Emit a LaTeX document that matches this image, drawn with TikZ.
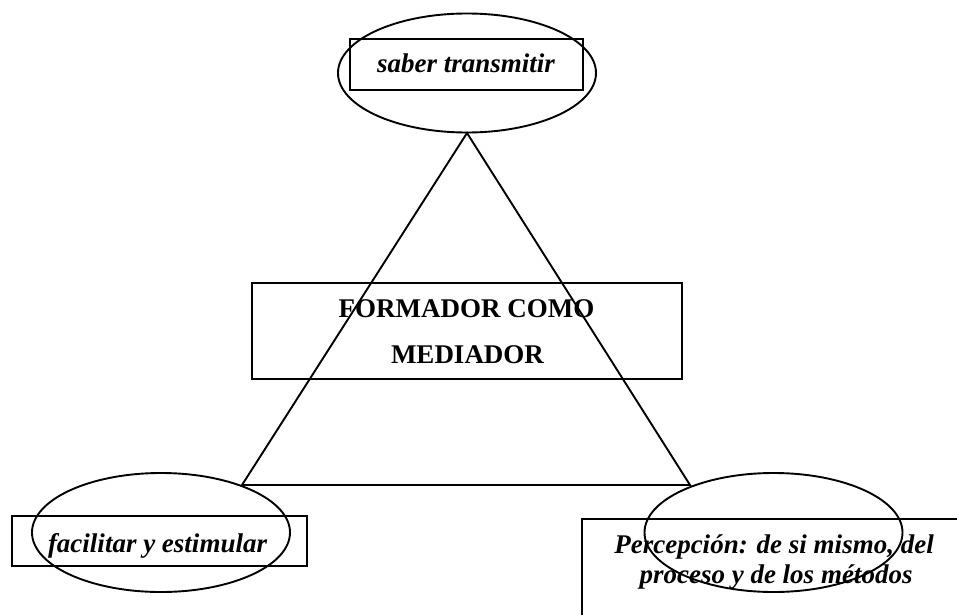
\documentclass[tikz,border=0pt]{standalone}
\usepackage{fontspec}
\setmainfont{Liberation Serif}
\usetikzlibrary{shapes.geometric}
\begin{document}
\begin{tikzpicture}[x=1pt,y=-1pt,line width=1.9pt,
  oval/.style={draw,ellipse,minimum width=258pt,minimum height=119pt,inner sep=0pt},
  box/.style={draw,rectangle,inner sep=0pt},
  lab/.style={font=\fontsize{27}{30}\selectfont\bfseries\itshape,anchor=base,inner sep=0pt},
  blab/.style={font=\fontsize{27}{30}\selectfont\bfseries,anchor=base,inner sep=0pt}]
\useasboundingbox (0,0) rectangle (957,615);
% top
\node[box,minimum width=233pt,minimum height=51pt] (topbox) at (466.5,64.5) {};
\node[lab] (toptext) at (466,73) {saber transmitir};
\node[oval] (topoval) at (467,73) {};
% triangle
\coordinate (apex) at (467,133);
\coordinate (bl) at (242,485);
\coordinate (br) at (690,485);
\draw (apex) -- (br) -- (bl) -- cycle;
% middle
\node[box,minimum width=430pt,minimum height=96pt] (midbox) at (467,331) {};
\node[blab] (mid1) at (466.5,317) {FORMADOR COMO};
\node[blab] (mid2) at (467.5,363) {MEDIADOR};
% bottom left
\node[box,minimum width=295pt,minimum height=50pt] (blbox) at (159.5,541) {};
\node[lab] (bltext) at (157.5,552) {facilitar y estimular};
\node[oval] (bloval) at (161,532.5) {};
% bottom right
\coordinate (brtr) at (957,519);
\coordinate (brtl) at (582,519);
\coordinate (brbl) at (582,615);
\draw (brtr) -- (brtl) -- (brbl);
\node[lab] (br1) at (774,553) {Percepción: de si mismo, del};
\node[lab] (br2) at (776,583) {proceso y de los métodos};
\node[oval] (broval) at (773.5,532.5) {};
\end{tikzpicture}
\end{document}
